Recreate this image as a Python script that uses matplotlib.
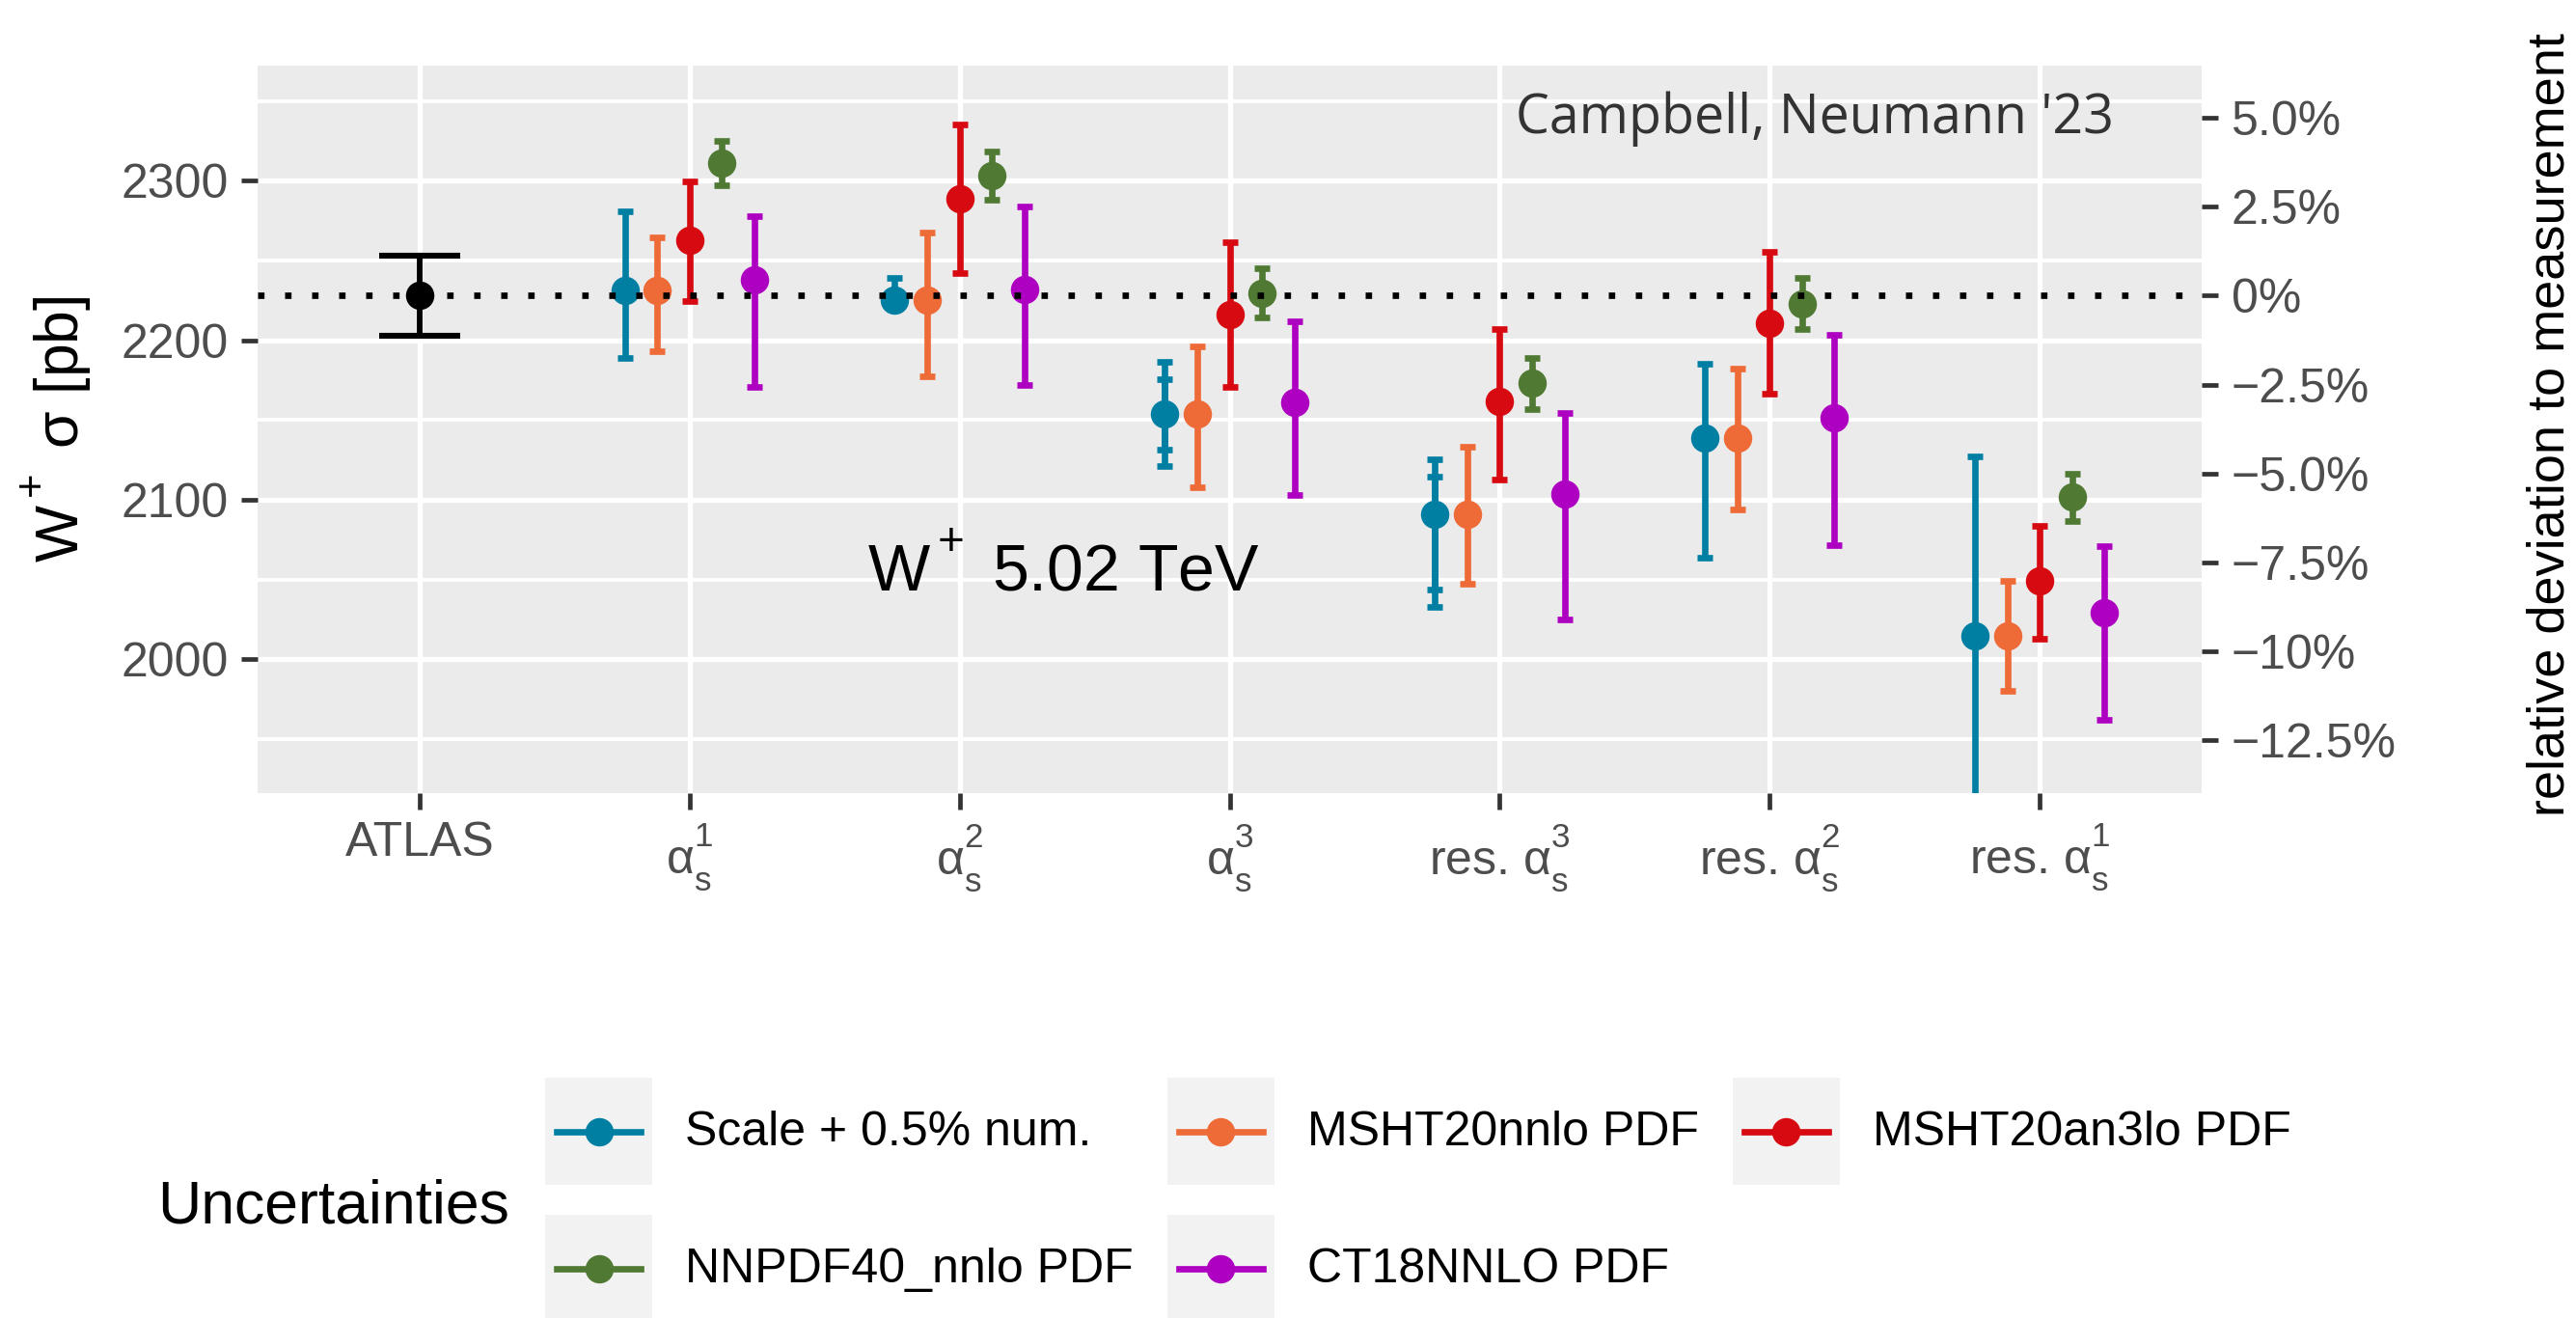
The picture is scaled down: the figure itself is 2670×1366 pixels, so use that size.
import numpy as np
import matplotlib
matplotlib.use('Agg')
import matplotlib.pyplot as plt
from matplotlib.legend_handler import HandlerBase
from matplotlib.lines import Line2D
from matplotlib.patches import Rectangle

plt.rcParams['font.family'] = ['Liberation Sans', 'DejaVu Sans']
plt.rcParams['mathtext.fontset'] = 'custom'
plt.rcParams['mathtext.rm'] = 'Liberation Sans'
plt.rcParams['mathtext.it'] = 'Liberation Sans:italic'
plt.rcParams['mathtext.bf'] = 'Liberation Sans:bold'

# raise superscripts a bit more, like R plotmath does
try:
    from matplotlib import _mathtext
    _mathtext.FontConstantsBase.sup1 = 1.05
    _mathtext.FontConstantsBase.sub2 = 0.65
except Exception:
    pass

# ---------------- data ----------------
categories = ['ATLAS',
              r'$\mathregular{α_s^1}$', r'$\mathregular{α_s^2}$', r'$\mathregular{α_s^3}$',
              r'res. $\mathregular{α_s^3}$', r'res. $\mathregular{α_s^2}$', r'res. $\mathregular{α_s^1}$']

atlas_val = 2228.0
atlas_err = 25.0

# theory predictions for categories 2..7 (alpha_s^1 ... res. alpha_s^1)
scale_c = [2231, 2225, 2154, 2091, 2139, 2015]
scale_lo = [2189, 2225, 2121, 2033, 2064, 1903]
scale_hi = [2281, 2239, 2186.5, 2125.5, 2185.5, 2127]
scale_in_lo = [np.nan, np.nan, 2131.5, 2044, np.nan, np.nan]
scale_in_hi = [np.nan, np.nan, 2175.5, 2114.5, np.nan, np.nan]

mshtnnlo_c = [2231, 2225, 2154, 2091, 2139, 2015]
mshtnnlo_lo = [2193, 2177.5, 2108, 2047.5, 2094, 1980.5]
mshtnnlo_hi = [2264.5, 2267.5, 2196, 2133.5, 2182, 2049.5]

mshtan3lo_c = [2263, 2289, 2216, 2162, 2211, 2049]
mshtan3lo_lo = [2224.5, 2242, 2171, 2112.5, 2166.5, 2013]
mshtan3lo_hi = [2299.5, 2335, 2261.5, 2207, 2255.5, 2083.5]

nnpdf_c = [2311, 2303, 2229.5, 2173.5, 2223, 2102]
nnpdf_lo = [2297, 2288, 2214.5, 2157, 2207, 2087]
nnpdf_hi = [2325, 2318.5, 2245, 2189, 2239, 2116.5]

ct18_c = [2238, 2232, 2161, 2103.5, 2151.5, 2029]
ct18_lo = [2171, 2172, 2103, 2025, 2071.5, 1962]
ct18_hi = [2278, 2284, 2212, 2154.5, 2203.5, 2071]

series_names = ['Scale + 0.5% num.', 'MSHT20nnlo PDF', 'MSHT20an3lo PDF',
                'NNPDF40_nnlo PDF', 'CT18NNLO PDF']
series_colors = ['#007FA3', '#EE6A36', '#D60A10', '#507A34', '#AD00C0']

pct_ticks = [5.0, 2.5, 0.0, -2.5, -5.0, -7.5, -10.0, -12.5]
pct_labels = ['5.0%', '2.5%', '0%', '−2.5%', '−5.0%', '−7.5%', '−10%', '−12.5%']

# ---------------- figure ----------------
fig = plt.figure(figsize=(13.35, 6.83), dpi=200)
ax = fig.add_axes([0.1, 0.398, 0.7547, 0.552])
ax.set_facecolor('#EBEBEB')
for s in ax.spines.values():
    s.set_visible(False)

x_all = np.arange(1, len(categories) + 1)
x_th = x_all[1:]
dodge = [-0.24, -0.12, 0.0, 0.12, 0.24]

series = [
    (scale_c, scale_lo, scale_hi),
    (mshtnnlo_c, mshtnnlo_lo, mshtnnlo_hi),
    (mshtan3lo_c, mshtan3lo_lo, mshtan3lo_hi),
    (nnpdf_c, nnpdf_lo, nnpdf_hi),
    (ct18_c, ct18_lo, ct18_hi),
]

# ATLAS measurement
eb = ax.errorbar([x_all[0]], [atlas_val], yerr=[[atlas_err], [atlas_err]], fmt='o',
                 color='black', ms=10.6, elinewidth=2.1, capsize=15, capthick=2.2, zorder=3)
eb[0].set_markeredgewidth(0)

handles = []
for (c, lo, hi), name, col, off in zip(series, series_names, series_colors, dodge):
    c = np.array(c, float)
    lo = np.array(lo, float)
    hi = np.array(hi, float)
    eb = ax.errorbar(x_th + off, c, yerr=[c - lo, hi - c], fmt='o', color=col,
                     ms=10.6, elinewidth=2.4, capsize=3, capthick=2.4,
                     label=name, zorder=3)
    eb[0].set_markeredgewidth(0)
    handles.append(eb[0])

# inner (scale only) bars on the scale band
c = np.array(scale_c, float)
ax.errorbar(x_th + dodge[0], c,
            yerr=[c - np.array(scale_in_lo, float), np.array(scale_in_hi, float) - c],
            fmt='none', ecolor=series_colors[0], elinewidth=2.4, capsize=3, capthick=2.4, zorder=3)

# measurement reference line
ax.axhline(atlas_val, color='black', lw=2.4, linestyle=(0, (1, 3.2)),
           dash_capstyle='butt', zorder=5)

ax.set_xlim(0.4, 7.6)
ax.set_ylim(1916, 2372)
ax.set_xticks(x_all)
ax.set_xticklabels(categories)
ax.set_yticks([2000, 2100, 2200, 2300])
ax.set_yticks(np.arange(1950, 2400, 100), minor=True)

ax.set_axisbelow(True)
ax.grid(which='major', color='white', lw=1.9)
ax.grid(which='minor', axis='y', color='white', lw=1.4)
ax.tick_params(which='major', length=6, width=1.7, color='#333333',
               labelsize=18, labelcolor='#4D4D4D', pad=5)
ax.tick_params(axis='x', pad=4.5)
ax.tick_params(which='minor', length=0)

sec = ax.secondary_yaxis('right', functions=(lambda y: (y / atlas_val - 1) * 100,
                                             lambda p: atlas_val * (1 + p / 100)))
sec.set_yticks(pct_ticks)
sec.set_yticklabels(pct_labels)
sec.tick_params(length=6, width=1.7, color='#333333', labelsize=18,
                labelcolor='#4D4D4D', pad=5)
for s in sec.spines.values():
    s.set_visible(False)

# annotations
ax.text(3.384, 2043, r'$\mathregular{W^+}$ 5.02 TeV', ha='center', va='baseline',
        fontsize=24.5, color='black')
ax.text(6.168, 2330, "Campbell, Neumann '23", ha='center', va='baseline',
        fontsize=20, color='#333333', family=['Open Sans', 'DejaVu Sans'])

# axis titles
fig.text(58 / 2670, 1 - 445 / 1366, r'$\mathregular{W^+}$ σ [pb]', rotation=90,
         ha='center', va='center', fontsize=22.5)
fig.text(2643 / 2670, 1 - 440 / 1366, 'relative deviation to measurement', rotation=90,
         ha='center', va='center', fontsize=19.5)


# legend with grey key backgrounds
class KeyHandler(HandlerBase):
    def create_artists(self, legend, orig_handle, xdescent, ydescent, width, height,
                       fontsize, trans):
        bg = Rectangle((-xdescent, -ydescent), width, height, facecolor='#F2F2F2',
                       edgecolor='none', transform=trans)
        yc = -ydescent + height / 2
        x0 = -xdescent + 0.11 * width
        x1 = -xdescent + 0.89 * width
        col = orig_handle.get_color()
        ln = Line2D([x0, x1], [yc, yc], color=col, lw=2.4, transform=trans)
        mk = Line2D([(x0 + x1) / 2], [yc], marker='o', ms=10.6, mew=0, color=col,
                    ls='none', transform=trans)
        return [bg, ln, mk]


# column-major order so rows read: Scale, MSHT20nnlo, MSHT20an3lo / NNPDF40, CT18
order = [0, 3, 1, 4, 2]
fig.legend([handles[i] for i in order], [series_names[i] for i in order],
           handler_map={Line2D: KeyHandler()},
           loc='upper left', bbox_to_anchor=(565 / 2670, 1 - 1117 / 1366),
           ncol=3, frameon=False, borderpad=0, borderaxespad=0,
           handlelength=2.22, handleheight=3.04, handletextpad=0.68,
           columnspacing=0.7, labelspacing=0.62, fontsize=18)
fig.text(346 / 2670, 1 - 1267 / 1366, 'Uncertainties', ha='center', va='baseline',
         fontsize=22.5)

fig.savefig('out.png', dpi=200)
